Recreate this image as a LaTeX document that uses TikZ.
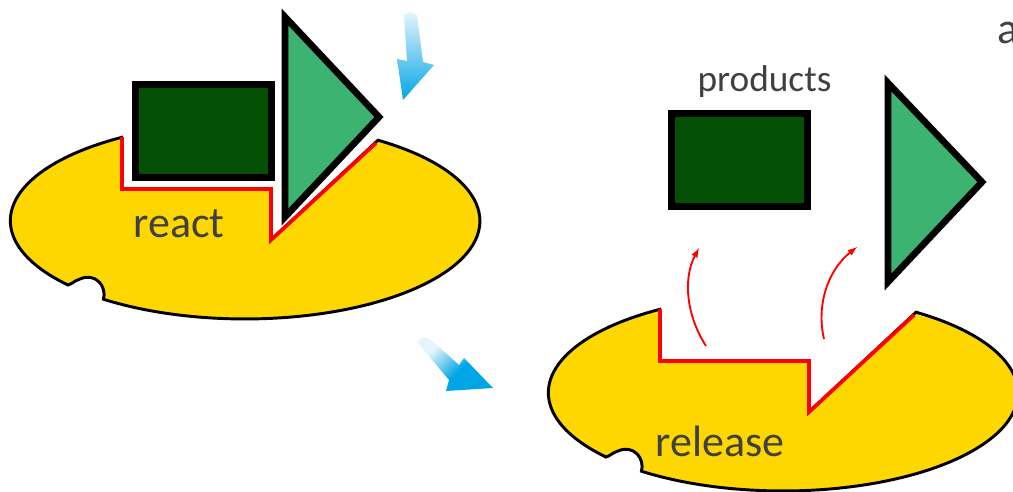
\documentclass[tikz,border=0pt]{standalone}
\usepackage{fontspec}
\setmainfont{Carlito}
\definecolor{enzymefill}{HTML}{FFD700}
\definecolor{substrfill}{HTML}{034F03}
\definecolor{triafill}{HTML}{3CB371}
\definecolor{flowblue}{HTML}{00A5E6}
\definecolor{flowpale}{HTML}{E6F4FB}
\definecolor{labelgray}{HTML}{404040}
\pgfdeclarehorizontalshading{flowfade}{100bp}{color(0bp)=(flowpale); color(30bp)=(flowpale); color(56bp)=(flowblue); color(100bp)=(flowblue)}
\tikzset{
	enzyme/.style={fill=enzymefill, draw=black, line width=2.2pt, line join=miter},
	site/.style={draw=red, line width=2.8pt, line join=miter},
	substr/.style={fill=substrfill, draw=black, line width=5pt, line join=miter},
	tria/.style={fill=triafill, draw=black, line width=5pt, line join=miter, miter limit=10},
	release/.style={draw=red, line width=1.4pt, -latex},
	tag/.style={text=labelgray, inner sep=0pt}
}
\begin{document}
\begin{tikzpicture}[x=0.75pt, y=-0.75pt]
		\useasboundingbox (0,0) rectangle (1013,492);
		\clip (0,0) rectangle (1013,492);
		% the two enzymes, same outline shifted
		\foreach \i\j in {0/0,538/172}{
			\begin{scope}[shift={(\i,\j)}]
				\draw[enzyme] (378,140.2) arc[start angle=-55.5, end angle=127, x radius=235, y radius=98]
					.. controls (107,287) and (96,272) .. (80,279)
					.. controls (74,281) and (72,284) .. (68,285)
					arc[start angle=139, end angle=238.2, x radius=235, y radius=98]
					-- (122,189) -- (271,189) -- (271,240) -- cycle;
				\draw[site] (122,137) -- (122,189) -- (271,189) -- (271,240) -- (376,143);
			\end{scope}
		}
		% bound pieces
		\draw[substr] (135.5,84.5) rectangle (271.5,177.5);
		\draw[tria] (285,17) -- (379,117) -- (285,217) -- cycle;
		% released pieces
		\draw[substr] (671.5,113.5) rectangle (807.5,206.5);
		\draw[tria] (888,83) -- (982,182) -- (888,282) -- cycle;
		% blue flow arrows
		\shade[top color=flowpale, middle color=flowblue, bottom color=flowblue]
			(404,15) -- (410,12) -- (417,15) -- (423,62) -- (434,65) -- (403,100) -- (397,59) -- (407,61) -- cycle;
		\shade[shading=flowfade, shading angle=-45]
			(417,342) -- (424,337) -- (430,339) -- (459,365) -- (464,358) -- (493,388) -- (446,391) -- (449,380) -- cycle;
		% red release arrows
		\coordinate (leftstart) at (706,346);
		\coordinate (leftend) at (699,248);
		\coordinate (rightstart) at (824,339);
		\coordinate (rightend) at (857,247);
		\draw[release] (leftstart) .. controls (686,315) and (683,278) .. (leftend);
		\draw[release] (rightstart) .. controls (816,305) and (828,270) .. (rightend);
		% labels
		\node[tag, font=\fontsize{33}{36}\selectfont, anchor=base] (react) at (179,237) {react};
		\node[tag, font=\fontsize{33}{36}\selectfont, anchor=base] (rel) at (720,456) {release};
		\node[tag, font=\fontsize{28}{30}\selectfont, anchor=base] (prod) at (764.5,92) {products};
		\node[tag, font=\fontsize{33}{36}\selectfont, anchor=base west] (cut) at (997,44) {a};
\end{tikzpicture}
\end{document}
